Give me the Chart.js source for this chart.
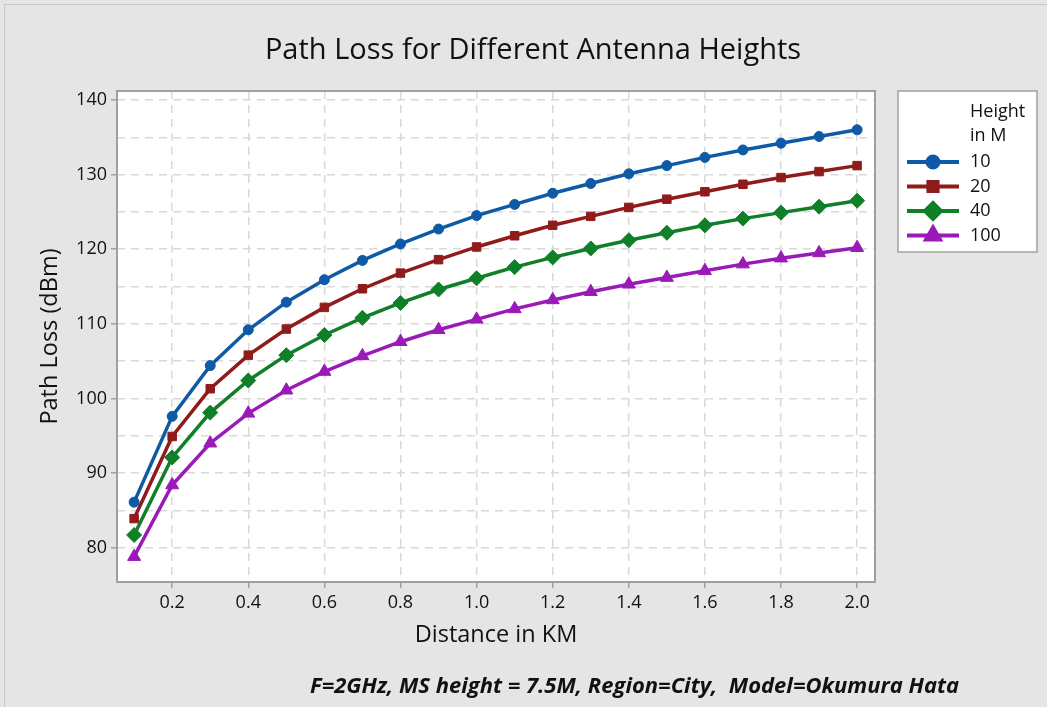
<!DOCTYPE html>
<html>
<head>
<meta charset="utf-8">
<title>Path Loss for Different Antenna Heights</title>
<script src="https://cdn.jsdelivr.net/npm/chart.js@4.4.1/dist/chart.umd.min.js"></script>
<style>
  html, body { margin: 0; padding: 0; background: #e5e5e5; }
  #wrap { width: 1047px; height: 707px; }
</style>
</head>
<body>
<div id="wrap"><canvas id="lossChart" width="1047" height="707"></canvas></div>
<script>
// distance from base station (km)
const distances = [0.1, 0.2, 0.3, 0.4, 0.5, 0.6, 0.7, 0.8, 0.9, 1.0,
                   1.1, 1.2, 1.3, 1.4, 1.5, 1.6, 1.7, 1.8, 1.9, 2.0];

// antenna heights (m) and path loss (dBm) for each
const heights = ['10', '20', '40', '100'];
const loss10  = [86.1, 97.6, 104.4, 109.2, 112.9, 115.9, 118.5, 120.7, 122.7, 124.5,
                 126.0, 127.5, 128.8, 130.1, 131.2, 132.3, 133.3, 134.2, 135.1, 136.0];
const loss20  = [83.9, 94.9, 101.3, 105.8, 109.3, 112.2, 114.7, 116.8, 118.6, 120.3,
                 121.8, 123.2, 124.4, 125.6, 126.7, 127.7, 128.7, 129.6, 130.4, 131.2];
const loss40  = [81.7, 92.1, 98.1, 102.4, 105.8, 108.5, 110.8, 112.8, 114.6, 116.1,
                 117.6, 118.9, 120.1, 121.2, 122.2, 123.2, 124.1, 124.9, 125.7, 126.5];
const loss100 = [78.8, 88.4, 94.0, 98.0, 101.1, 103.6, 105.7, 107.6, 109.2, 110.6,
                 112.0, 113.2, 114.3, 115.3, 116.2, 117.1, 118.0, 118.8, 119.5, 120.2];

const xTicks = [0.2, 0.4, 0.6, 0.8, 1.0, 1.2, 1.4, 1.6, 1.8, 2.0];
const yTicks = [80, 85, 90, 95, 100, 105, 110, 115, 120, 125, 130, 135, 140];

const colors = ['#0f5aa6', '#901b1b', '#0f7f28', '#9a1ab8'];
const markers = ['circle', 'rect', 'rectRot', 'triangle'];
const markerSize = [5, 6, 7.5, 7.5];

const FONT = '"Open Sans", "DejaVu Sans", sans-serif';

function pairs(values) {
  return distances.map((d, i) => ({ x: d, y: values[i] }));
}

const series = [loss10, loss20, loss40, loss100];

// background, plot frame, title, legend box and footnote
const decor = {
  id: 'decor',
  beforeDraw(chart) {
    const c = chart.ctx, a = chart.chartArea;
    c.save();
    c.fillStyle = '#e5e5e5';
    c.fillRect(0, 0, chart.width, chart.height);
    c.strokeStyle = '#c8c8c8';
    c.lineWidth = 1;
    c.strokeRect(4.5, 4.5, chart.width + 10, chart.height + 10);
    c.fillStyle = '#ffffff';
    c.fillRect(a.left, a.top, a.right - a.left, a.bottom - a.top);
    c.restore();
  },
  afterDraw(chart) {
    const c = chart.ctx, a = chart.chartArea;
    c.save();
    c.strokeStyle = '#a0a0a0';
    c.lineWidth = 2;
    c.strokeRect(a.left, a.top, a.right - a.left, a.bottom - a.top);

    c.fillStyle = '#111';
    c.textAlign = 'center';
    c.textBaseline = 'middle';
    c.font = '29px ' + FONT;
    c.fillText('Path Loss for Different Antenna Heights', 533, 51);

    // legend
    c.fillStyle = '#ffffff';
    c.fillRect(898, 91, 139, 161);
    c.strokeStyle = '#a0a0a0';
    c.lineWidth = 1.5;
    c.strokeRect(898, 91, 139, 161);
    c.fillStyle = '#111';
    c.textAlign = 'left';
    c.font = '18px ' + FONT;
    c.fillText('Height', 970, 112);
    c.fillText('in M', 970, 136);
    const rowY = [162, 186.5, 211, 235.5];
    heights.forEach((h, i) => {
      const y = rowY[i];
      c.strokeStyle = colors[i];
      c.lineWidth = 4;
      c.beginPath();
      c.moveTo(907, y);
      c.lineTo(959, y);
      c.stroke();
      c.fillStyle = colors[i];
      Chart.helpers.drawPoint(c, {
        pointStyle: markers[i], radius: markerSize[i] + 0.5, rotation: 0, borderWidth: 1
      }, 933, y);
      c.fillStyle = '#111';
      c.fillText(h, 970, y);
    });

    c.font = 'italic bold 22px ' + FONT;
    c.textAlign = 'left';
    c.fillText('F=2GHz, MS height = 7.5M, Region=City,  Model=Okumura Hata', 310, 687);
    c.restore();
  }
};

new Chart(document.getElementById('lossChart'), {
  type: 'line',
  data: {
    datasets: series.map((vals, i) => ({
      label: heights[i],
      data: pairs(vals),
      borderColor: colors[i],
      backgroundColor: colors[i],
      borderWidth: 3.5,
      pointStyle: markers[i],
      pointRadius: markerSize[i],
      pointBorderWidth: 1,
      tension: 0,
      fill: false
    }))
  },
  options: {
    responsive: false,
    animation: false,
    layout: { padding: { left: 0, top: 91, right: 172, bottom: 55 } },
    plugins: {
      legend: { display: false },
      title: { display: false },
      tooltip: { enabled: false }
    },
    scales: {
      x: {
        type: 'linear',
        min: 0.055,
        max: 2.047,
        afterBuildTicks: s => { s.ticks = xTicks.map(v => ({ value: v })); },
        afterFit: s => { s.height = 70; },
        ticks: {
          autoSkip: false,
          maxRotation: 0,
          padding: 4,
          color: '#111',
          font: { family: FONT, size: 18 },
          callback: v => v.toFixed(1)
        },
        grid: {
          color: '#d9d9d9',
          lineWidth: 1.5,
          tickColor: '#a0a0a0',
          tickLength: 6,
          tickWidth: 1.5,
          tickBorderDash: []
        },
        border: { display: false, dash: [8, 6] },
        title: {
          display: true,
          text: 'Distance in KM',
          color: '#111',
          font: { family: FONT, size: 23.5 },
          padding: { top: 0, bottom: 3 }
        }
      },
      y: {
        min: 75.4,
        max: 141.2,
        afterBuildTicks: s => { s.ticks = yTicks.map(v => ({ value: v })); },
        afterFit: s => { s.width = 117; },
        ticks: {
          autoSkip: false,
          padding: 4,
          color: '#111',
          font: { family: FONT, size: 18 },
          callback: v => (v % 10 === 0 ? v : '')
        },
        grid: {
          color: '#d9d9d9',
          lineWidth: 1.5,
          tickColor: ctx => (ctx.tick && ctx.tick.value % 10 === 0 ? '#a0a0a0' : 'rgba(0,0,0,0)'),
          tickLength: 6,
          tickWidth: 1.5,
          tickBorderDash: []
        },
        border: { display: false, dash: [8, 6] },
        title: {
          display: true,
          text: 'Path Loss (dBm)',
          color: '#111',
          font: { family: FONT, size: 23.5 },
          padding: { top: 36, bottom: 0 }
        }
      }
    }
  },
  plugins: [decor]
});
</script>
</body>
</html>
